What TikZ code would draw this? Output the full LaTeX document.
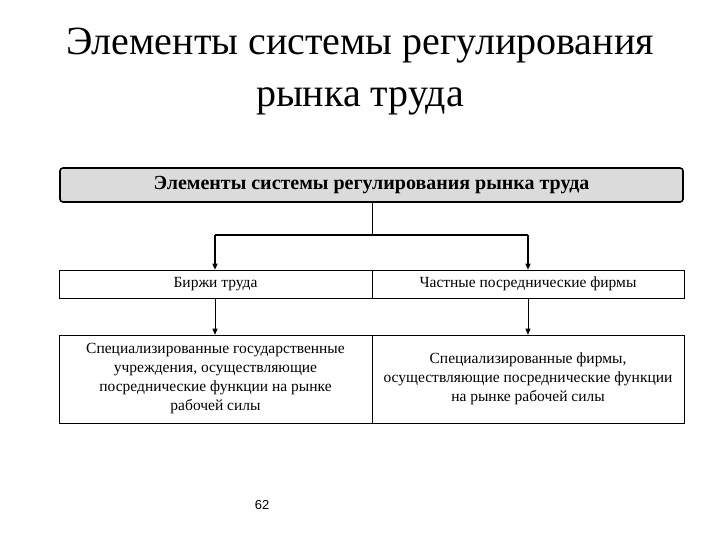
\documentclass[tikz,border=0pt]{standalone}
\usepackage{fontspec}
\setmainfont{Liberation Serif}
\newfontfamily\sansf{Liberation Sans}
\usetikzlibrary{arrows.meta}
\begin{document}
\begin{tikzpicture}[x=1pt,y=-1pt,
  cell/.style={draw,line width=0.6pt,inner sep=0pt,align=center,font=\fontsize{15.5}{19}\selectfont},
  arr/.style={-{Triangle[length=6pt,width=5pt]},line width=1.3pt}]
\useasboundingbox (0,0) rectangle (720,540);
\node[font=\fontsize{40}{52}\selectfont,align=center] (title) at (360,72) {Элементы системы регулирования\\рынка труда};
\node[cell,draw,line width=1.6pt,rounded corners=3pt,fill=black!14,minimum width=623pt,minimum height=34pt,font=\bfseries\fontsize{20}{22}\selectfont] (top) at (371.5,185) {\strut Элементы системы регулирования рынка труда};
\node[cell,minimum width=313pt,minimum height=28pt] (b1) at (215.5,284) {\strut Биржи труда};
\node[cell,minimum width=312pt,minimum height=28pt] (b2) at (528,284) {\strut Частные посреднические фирмы};
\node[cell,minimum width=313pt,minimum height=88pt] (c1) at (215.5,379) {Специализированные государственные\\учреждения, осуществляющие\\посреднические функции на рынке\\рабочей силы};
\node[cell,minimum width=312pt,minimum height=88pt] (c2) at (528,379) {Специализированные фирмы,\\осуществляющие посреднические функции\\на рынке рабочей силы};
\coordinate (j) at (372,235);
\draw[line width=0.6pt] (top.south -| j) -- (j);
\draw[line width=1.3pt] (215,235) -- (528,235);
\draw[arr] (215,235) -- (b1.north -| 215,0);
\draw[arr] (528,235) -- (b2.north -| 528,0);
\draw[arr,line width=0.6pt] (b1.south -| 215,0) -- (c1.north -| 215,0);
\draw[arr,line width=0.6pt] (b2.south -| 528,0) -- (c2.north -| 528,0);
\node[font=\sansf\fontsize{13}{15}\selectfont] (pg) at (262,505) {62};
\end{tikzpicture}
\end{document}
